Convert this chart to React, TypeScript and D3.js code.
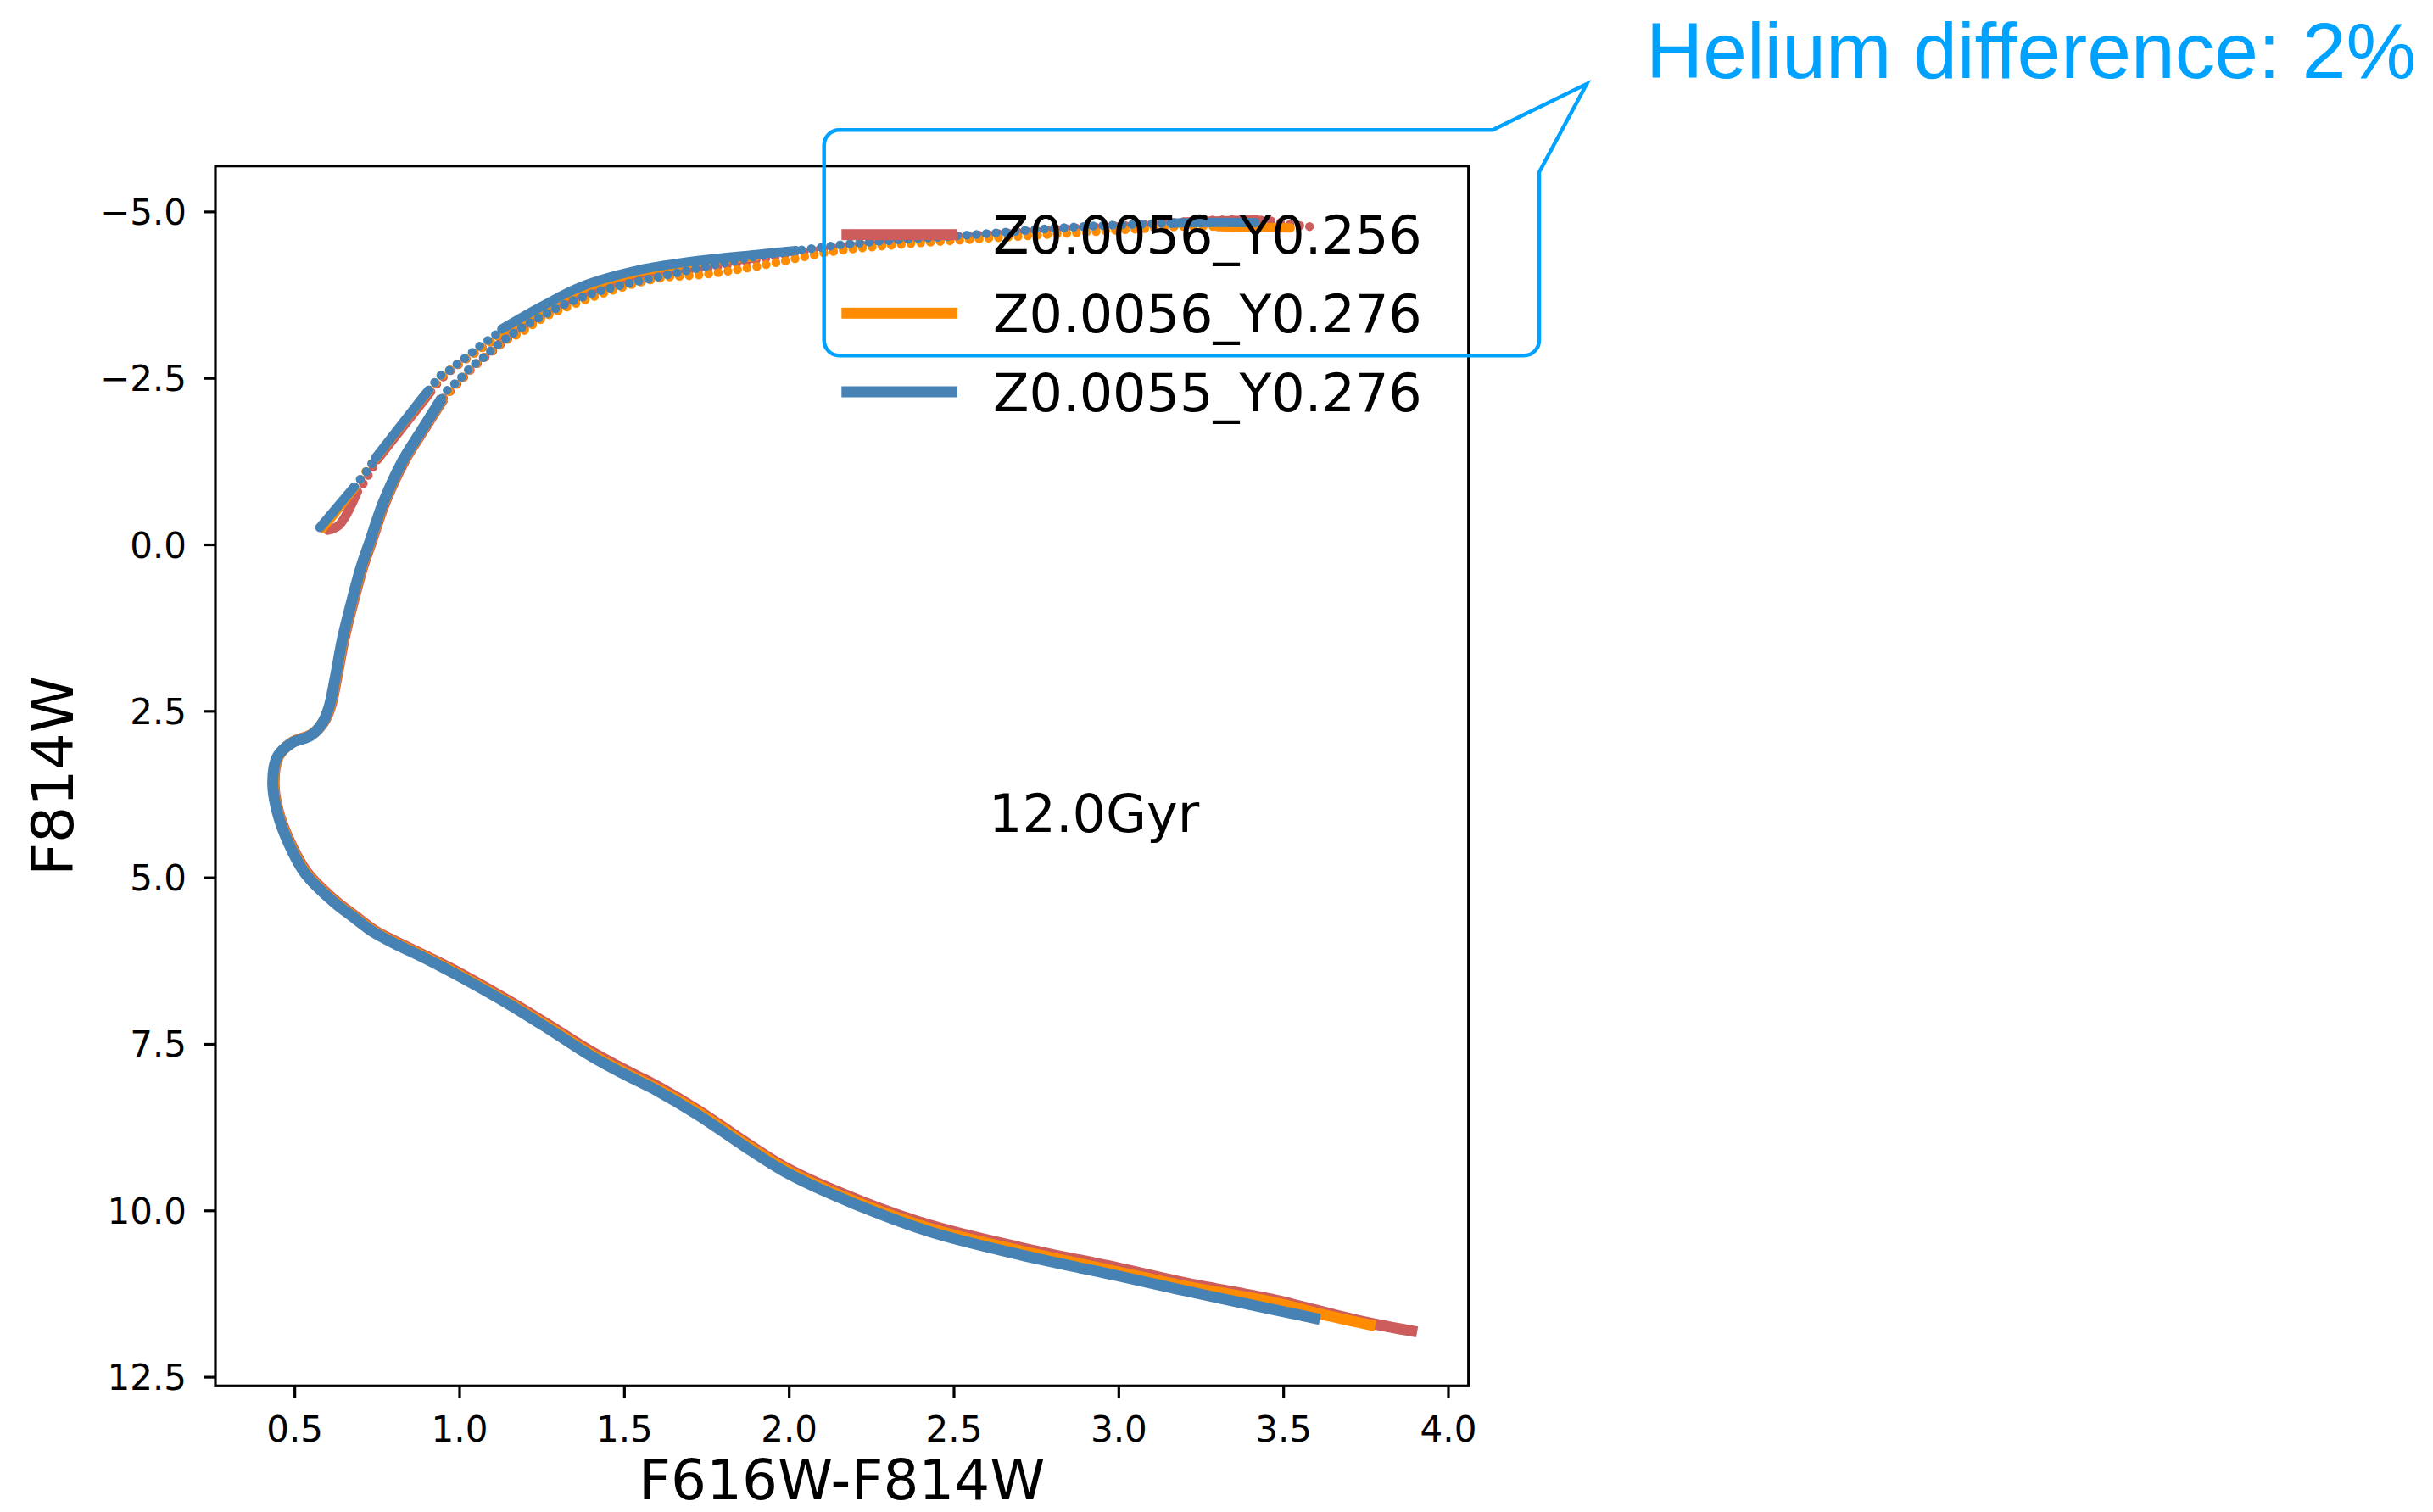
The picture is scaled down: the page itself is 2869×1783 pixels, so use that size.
import React, { useEffect } from 'react';
import * as d3 from 'd3';

type Pt = [number, number];

// ---------- isochrone tracks (colour F616W-F814W, magnitude F814W) ----------

// Z0.0056_Y0.256
const redMs: Pt[] = [
  [3.905, 11.82], [3.72, 11.64], [3.465, 11.33], [3.2, 11.08], [3.0, 10.86], [2.7, 10.55],
  [2.43, 10.22], [2.2, 9.82], [2.0, 9.38], [1.87, 8.98], [1.72, 8.48], [1.6, 8.13],
  [1.5, 7.88], [1.4, 7.61], [1.28, 7.24], [1.15, 6.85], [1.0, 6.43], [0.9, 6.18],
  [0.8, 5.94], [0.742, 5.79], [0.685, 5.58], [0.622, 5.34], [0.537, 4.92], [0.485, 4.46],
  [0.45, 4.0], [0.437, 3.58], [0.45, 3.18], [0.493, 2.96], [0.553, 2.84], [0.588, 2.66],
  [0.609, 2.42], [0.627, 2.0], [0.65, 1.4], [0.675, 0.9], [0.705, 0.35], [0.734, -0.07],
  [0.773, -0.63], [0.832, -1.26], [0.891, -1.73], [0.951, -2.2],
];
const redRgb: Pt[] = [
  [0.951, -2.2], [1.005, -2.48], [1.044, -2.68], [1.103, -2.92], [1.143, -3.08], [1.19, -3.22],
  [1.25, -3.42], [1.32, -3.6], [1.45, -3.84], [1.66, -4.06], [1.9, -4.28], [2.1, -4.44],
  [2.35, -4.56], [2.6, -4.66], [2.85, -4.75], [3.1, -4.82], [3.3, -4.88], [3.45, -4.87],
  [3.525, -4.81], [3.6, -4.77],
];
const redTip: Pt[] = [[3.2, -4.85], [3.42, -4.88]];
const redHb: Pt[] = [[0.6, -0.22], [0.635, -0.3], [0.69, -0.8]];
const redHbGap: Pt[] = [[0.69, -0.8], [0.709, -0.93], [0.735, -1.15], [0.75, -1.28]];
const redAgb: Pt[] = [[0.75, -1.28], [0.893, -2.18], [0.912, -2.3]];
const redAgbGap: Pt[] = [[0.912, -2.3], [0.95, -2.52], [1.0, -2.72], [1.06, -2.93], [1.11, -3.1], [1.135, -3.2]];
const redUpper: Pt[] = [[1.135, -3.2], [1.245, -3.5], [1.37, -3.82], [1.55, -4.07], [1.745, -4.22], [1.9, -4.31]];

// Z0.0056_Y0.276
const orangeMs: Pt[] = [
  [3.778, 11.73], [3.62, 11.56], [3.465, 11.37], [3.2, 11.13], [3.0, 10.92], [2.7, 10.6],
  [2.43, 10.27], [2.2, 9.86], [2.0, 9.41], [1.87, 9.01], [1.72, 8.51], [1.6, 8.17],
  [1.5, 7.92], [1.4, 7.65], [1.28, 7.27], [1.15, 6.88], [1.0, 6.46], [0.9, 6.2],
  [0.8, 5.96], [0.739, 5.8], [0.682, 5.59], [0.619, 5.35], [0.534, 4.93], [0.482, 4.46],
  [0.448, 4.0], [0.435, 3.58], [0.448, 3.19], [0.491, 2.97], [0.551, 2.85], [0.585, 2.67],
  [0.606, 2.43], [0.624, 2.01], [0.647, 1.4], [0.672, 0.9], [0.702, 0.35], [0.731, -0.07],
  [0.77, -0.63], [0.829, -1.26], [0.888, -1.73], [0.948, -2.2],
];
const orangeRgb: Pt[] = [
  [0.948, -2.2], [1.002, -2.48], [1.041, -2.68], [1.1, -2.92], [1.14, -3.07], [1.19, -3.2],
  [1.251, -3.4], [1.339, -3.6], [1.482, -3.85], [1.6, -4.0], [1.74, -4.06], [1.9, -4.18],
  [2.127, -4.4], [2.333, -4.51], [2.59, -4.6], [2.848, -4.68], [3.06, -4.745], [3.19, -4.78],
  [3.3, -4.78],
];
const orangeTip: Pt[] = [[3.3, -4.78], [3.52, -4.76]];
const orangeHb: Pt[] = [[0.585, -0.25], [0.682, -0.86]];
const orangeHbGap: Pt[] = [[0.682, -0.86], [0.704, -1.02], [0.73, -1.2], [0.746, -1.3]];
const orangeAgb: Pt[] = [[0.746, -1.3], [0.888, -2.2], [0.908, -2.32]];
const orangeAgbGap: Pt[] = [[0.908, -2.32], [0.95, -2.55], [1.0, -2.73], [1.05, -2.9], [1.1, -3.08], [1.13, -3.2]];
const orangeUpper: Pt[] = [[1.13, -3.2], [1.243, -3.52], [1.37, -3.84], [1.548, -4.1], [1.743, -4.25], [1.9, -4.33]];

// Z0.0055_Y0.276
const blueMs: Pt[] = [
  [3.61, 11.63], [3.37, 11.38], [3.2, 11.2], [3.0, 10.98], [2.7, 10.66], [2.43, 10.32],
  [2.2, 9.9], [2.0, 9.45], [1.87, 9.05], [1.72, 8.55], [1.6, 8.2], [1.5, 7.95],
  [1.4, 7.68], [1.28, 7.3], [1.15, 6.9], [1.0, 6.48], [0.9, 6.22], [0.8, 5.98],
  [0.737, 5.81], [0.68, 5.6], [0.617, 5.36], [0.532, 4.94], [0.48, 4.47], [0.446, 4.0],
  [0.433, 3.58], [0.446, 3.19], [0.489, 2.98], [0.549, 2.86], [0.583, 2.68], [0.604, 2.43],
  [0.622, 2.01], [0.645, 1.4], [0.67, 0.9], [0.7, 0.35], [0.729, -0.07], [0.768, -0.63],
  [0.827, -1.26], [0.886, -1.73], [0.946, -2.2],
];
const blueRgb: Pt[] = [
  [0.946, -2.2], [0.955, -2.28], [1.0, -2.49], [1.039, -2.69], [1.069, -2.8], [1.098, -2.93],
  [1.138, -3.09], [1.182, -3.24], [1.241, -3.41], [1.313, -3.6], [1.438, -3.83], [1.664, -4.09],
  [1.9, -4.33], [2.084, -4.46], [2.204, -4.53], [2.565, -4.66], [2.779, -4.745], [2.976, -4.8],
  [3.16, -4.83],
];
const blueTip: Pt[] = [[3.16, -4.83], [3.225, -4.84], [3.414, -4.84]];
const blueHb: Pt[] = [[0.576, -0.26], [0.68, -0.87]];
const blueHbGap: Pt[] = [[0.68, -0.87], [0.729, -1.18], [0.744, -1.3]];
const blueAgb: Pt[] = [[0.744, -1.3], [0.886, -2.2], [0.906, -2.32]];
const blueAgbGap: Pt[] = [
  [0.906, -2.32], [0.926, -2.45], [0.946, -2.56], [0.975, -2.64], [1.0, -2.75], [1.024, -2.83],
  [1.054, -2.96], [1.103, -3.13], [1.128, -3.24],
];
const blueUpper: Pt[] = [
  [1.128, -3.24], [1.241, -3.56], [1.369, -3.88], [1.546, -4.13], [1.741, -4.28], [1.9, -4.36], [2.02, -4.42],
];

const seriesNames = ['Z0.0056_Y0.256', 'Z0.0056_Y0.276', 'Z0.0055_Y0.276'];
const seriesColors = ['#cd5c5c', '#ff8c00', '#4682b4'];

const xTicks = [0.5, 1.0, 1.5, 2.0, 2.5, 3.0, 3.5, 4.0];
const yTicks = [-5.0, -2.5, 0.0, 2.5, 5.0, 7.5, 10.0, 12.5];

const xLabel = 'F616W-F814W';
const yLabel = 'F814W';
const ageLabel = '12.0Gyr';
const calloutText = 'Helium difference: 2%';

// kind: 'ms' = main sequence line, 'solid' = dense branch, 'dots' = sparse points
type Track = { pts: Pt[]; kind: 'ms' | 'solid' | 'dots' };
const seriesTracks: Track[][] = [
  [
    { pts: redMs, kind: 'ms' }, { pts: redRgb, kind: 'dots' }, { pts: redTip, kind: 'solid' },
    { pts: redHb, kind: 'solid' }, { pts: redHbGap, kind: 'dots' }, { pts: redAgb, kind: 'solid' },
    { pts: redAgbGap, kind: 'dots' }, { pts: redUpper, kind: 'solid' },
  ],
  [
    { pts: orangeMs, kind: 'ms' }, { pts: orangeRgb, kind: 'dots' }, { pts: orangeTip, kind: 'solid' },
    { pts: orangeHb, kind: 'solid' }, { pts: orangeHbGap, kind: 'dots' }, { pts: orangeAgb, kind: 'solid' },
    { pts: orangeAgbGap, kind: 'dots' }, { pts: orangeUpper, kind: 'solid' },
  ],
  [
    { pts: blueMs, kind: 'ms' }, { pts: blueRgb, kind: 'dots' }, { pts: blueTip, kind: 'solid' },
    { pts: blueHb, kind: 'solid' }, { pts: blueHbGap, kind: 'dots' }, { pts: blueAgb, kind: 'solid' },
    { pts: blueAgbGap, kind: 'dots' }, { pts: blueUpper, kind: 'solid' },
  ],
];

const W = 2869;
const H = 1783;
const PL = 254, PR = 1731.7, PT = 195.7, PB = 1634.3;
const FONT = '"DejaVu Sans", sans-serif';
const CALLOUT = '#00a2ff';

export default function App() {
  useEffect(() => {
    document.body.style.margin = '0';
  }, []);

  const x = d3.scaleLinear().domain([0.259, 4.061]).range([PL, PR]);
  const y = d3.scaleLinear().domain([-5.69, 12.63]).range([PT, PB]);
  const line = d3
    .line<Pt>()
    .x((d) => x(d[0]))
    .y((d) => y(d[1]))
    .curve(d3.curveCatmullRom.alpha(0.5));
  const fmt = d3.format('.1f');

  const legendX0 = 992.3;
  const legendRows = [276.7, 369.3, 462];

  const r = 18;
  const bx0 = 971.7, by0 = 153.3, bx1 = 1815, by1 = 419.3;
  const calloutPath = [
    `M${bx0},${by0 + r}`,
    `A${r},${r} 0 0 1 ${bx0 + r},${by0}`,
    `L1760,${by0}`,
    `L1871,99`,
    `L${bx1},203`,
    `L${bx1},${by1 - r}`,
    `A${r},${r} 0 0 1 ${bx1 - r},${by1}`,
    `L${bx0 + r},${by1}`,
    `A${r},${r} 0 0 1 ${bx0},${by1 - r}`,
    'Z',
  ].join(' ');

  const trackStyle = (kind: Track['kind']) => {
    if (kind === 'dots') {
      return { strokeWidth: 10.5, strokeLinecap: 'round' as const, strokeDasharray: '0 11.5' };
    }
    if (kind === 'solid') {
      return { strokeWidth: 11, strokeLinecap: 'round' as const, strokeLinejoin: 'round' as const };
    }
    return { strokeWidth: 13, strokeLinecap: 'butt' as const, strokeLinejoin: 'round' as const };
  };

  return (
    <svg
      width={W}
      height={H}
      viewBox={`0 0 ${W} ${H}`}
      style={{ position: 'absolute', left: 0, top: 0, background: '#fff' }}
    >
      <rect x={0} y={0} width={W} height={H} fill="#fff" />

      {/* isochrones */}
      {seriesTracks.map((tracks, si) => (
        <g key={si}>
          {tracks.map((t, ti) => (
            <path
              key={ti}
              d={line(t.pts) || ''}
              fill="none"
              stroke={seriesColors[si]}
              {...trackStyle(t.kind)}
            />
          ))}
        </g>
      ))}

      {/* axes frame */}
      <rect x={PL} y={PT} width={PR - PL} height={PB - PT} fill="none" stroke="#000" strokeWidth={3.2} />

      {/* x ticks */}
      {xTicks.map((t) => (
        <g key={`x${t}`}>
          <line x1={x(t)} x2={x(t)} y1={PB} y2={PB + 14} stroke="#000" strokeWidth={3.2} />
          <text x={x(t)} y={PB + 66} fontFamily={FONT} fontSize={42} textAnchor="middle" fill="#000">
            {fmt(t)}
          </text>
        </g>
      ))}

      {/* y ticks */}
      {yTicks.map((t) => (
        <g key={`y${t}`}>
          <line x1={PL - 14} x2={PL} y1={y(t)} y2={y(t)} stroke="#000" strokeWidth={3.2} />
          <text x={220} y={y(t) + 15} fontFamily={FONT} fontSize={42} textAnchor="end" fill="#000">
            {fmt(t)}
          </text>
        </g>
      ))}

      {/* axis labels */}
      <text x={(PL + PR) / 2} y={1768} fontFamily={FONT} fontSize={66} textAnchor="middle" fill="#000">
        {xLabel}
      </text>
      <text
        transform={`translate(86,${(PT + PB) / 2}) rotate(-90)`}
        fontFamily={FONT}
        fontSize={68}
        textAnchor="middle"
        fill="#000"
      >
        {yLabel}
      </text>

      {/* age annotation */}
      <text x={1166} y={981} fontFamily={FONT} fontSize={62} fill="#000">
        {ageLabel}
      </text>

      {/* legend */}
      {seriesNames.map((name, i) => (
        <g key={name}>
          <rect x={legendX0} y={legendRows[i] - 6.5} width={136.7} height={13} fill={seriesColors[i]} />
          <text x={1171} y={legendRows[i] + 22.6} fontFamily={FONT} fontSize={62} fill="#000">
            {name}
          </text>
        </g>
      ))}

      {/* callout */}
      <path d={calloutPath} fill="none" stroke={CALLOUT} strokeWidth={4.5} strokeLinejoin="miter" />
      <text
        x={1941}
        y={92}
        fontFamily='"Liberation Sans", Arial, Helvetica, sans-serif'
        fontSize={93}
        fill={CALLOUT}
      >
        {calloutText}
      </text>
    </svg>
  );
}
